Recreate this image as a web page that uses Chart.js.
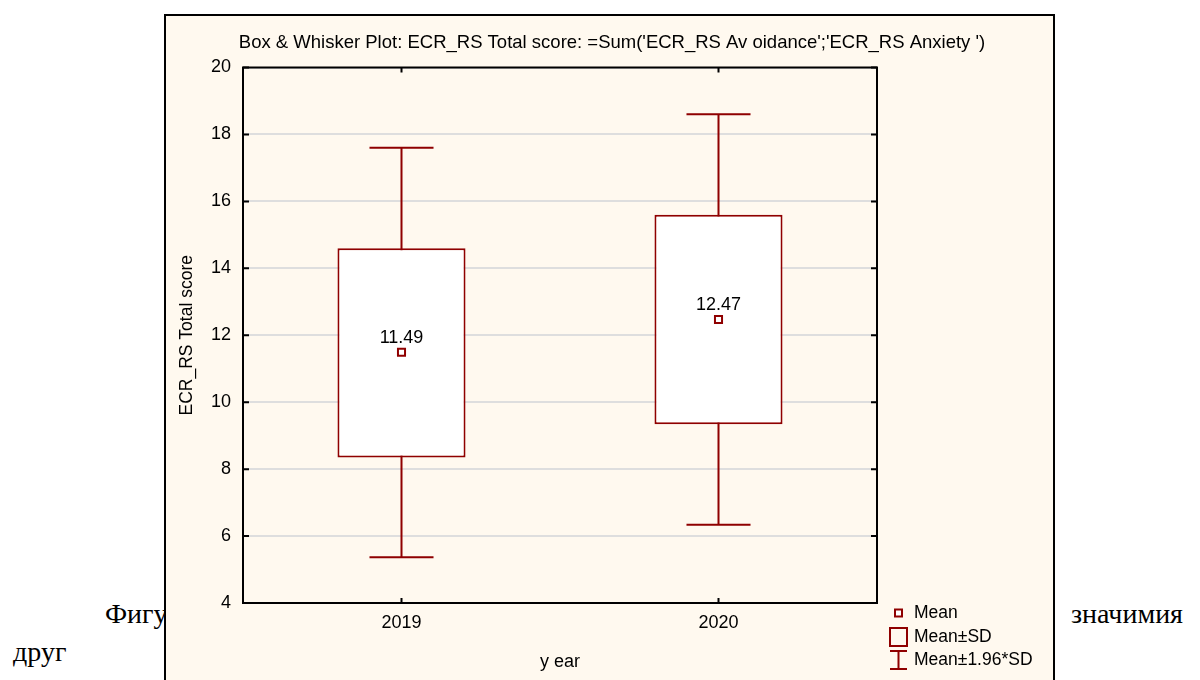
<!DOCTYPE html>
<html>
<head>
<meta charset="utf-8">
<script src="https://cdn.jsdelivr.net/npm/chart.js@4/dist/chart.umd.min.js"></script>
<style>
body{margin:0;background:#fff;width:1200px;height:680px;overflow:hidden;position:relative;font-family:"Liberation Serif",serif}
.doc{position:absolute;font-size:28px;color:#000;line-height:1;white-space:nowrap}
#panel{position:absolute;left:164px;top:14px;width:887px;height:700px;border:2px solid #000;background:#fff9ef}
#panel canvas{display:block}
</style>
</head>
<body>
<div class="doc" style="left:105px;top:600px">Фигура</div>
<div class="doc" style="left:1071px;top:600px">значимия</div>
<div class="doc" style="left:13px;top:638px">друг</div>
<div id="panel"><canvas id="c" width="887" height="664"></canvas></div>
<script>
var years = ["2019", "2020"];
var means = [11.49, 12.47];
var sdLow = [8.35, 9.34];     // Mean-SD
var sdHigh = [14.6, 15.6];    // Mean+SD
var ciLow = [5.37, 6.34];     // Mean-1.96*SD
var ciHigh = [17.6, 18.6];    // Mean+1.96*SD
var yTicks = [4, 6, 8, 10, 12, 14, 16, 18, 20];
var titleText = "Box & Whisker Plot: ECR_RS Total score: =Sum('ECR_RS Av oidance';'ECR_RS Anxiety ')";

var red = "#8f0000";
var fontFam = "'Liberation Sans', Arial, sans-serif";

var boxPlugin = {
  id: "boxWhisker",
  beforeDatasetsDraw: function(chart) {
    var ctx = chart.ctx, xs = chart.scales.x, ys = chart.scales.y;
    var bars = chart.getDatasetMeta(0).data;
    ctx.save();
    ctx.strokeStyle = red;
    ctx.lineWidth = 2;
    years.forEach(function(y, i) {
      var x = xs.getPixelForValue(i);
      var half = bars[i].width / 4;
      var top = ys.getPixelForValue(ciHigh[i]), bot = ys.getPixelForValue(ciLow[i]);
      ctx.beginPath();
      ctx.moveTo(x, top); ctx.lineTo(x, bot);
      ctx.moveTo(x - half, top); ctx.lineTo(x + half, top);
      ctx.moveTo(x - half, bot); ctx.lineTo(x + half, bot);
      ctx.stroke();
    });
    ctx.restore();
  },
  afterDatasetsDraw: function(chart) {
    var ctx = chart.ctx, xs = chart.scales.x, ys = chart.scales.y, a = chart.chartArea;
    ctx.save();
    // mean labels
    ctx.fillStyle = "#000";
    ctx.font = "18px " + fontFam;
    ctx.textAlign = "center";
    ctx.textBaseline = "middle";
    means.forEach(function(m, i) {
      ctx.fillText(m.toFixed(2), xs.getPixelForValue(i), ys.getPixelForValue(m) - 14);
    });
    // frame and inward ticks
    ctx.strokeStyle = "#000";
    ctx.lineWidth = 2;
    ctx.strokeRect(a.left, a.top, a.right - a.left, a.bottom - a.top);
    ctx.beginPath();
    yTicks.forEach(function(v) {
      var py = ys.getPixelForValue(v);
      ctx.moveTo(a.left, py); ctx.lineTo(a.left + 6, py);
      ctx.moveTo(a.right - 6, py); ctx.lineTo(a.right, py);
    });
    years.forEach(function(y, i) {
      var px = xs.getPixelForValue(i);
      ctx.moveTo(px, a.top); ctx.lineTo(px, a.top + 5);
      ctx.moveTo(px, a.bottom - 5); ctx.lineTo(px, a.bottom);
    });
    ctx.stroke();
    ctx.restore();
  },
  afterDraw: function(chart) {
    var ctx = chart.ctx;
    ctx.save();
    // title across the whole panel
    ctx.fillStyle = "#000";
    ctx.font = "18.5px " + fontFam;
    ctx.textAlign = "center";
    ctx.textBaseline = "middle";
    ctx.fillText(titleText, 446, 27);
    // legend
    ctx.strokeStyle = red;
    ctx.lineWidth = 2;
    ctx.fillStyle = "#fff";
    ctx.fillRect(729, 593.5, 7, 7);
    ctx.strokeRect(729, 593.5, 7, 7);
    ctx.strokeRect(724, 612, 17, 18);
    ctx.beginPath();
    ctx.moveTo(732.5, 635); ctx.lineTo(732.5, 653);
    ctx.moveTo(724, 635); ctx.lineTo(741, 635);
    ctx.moveTo(724, 653); ctx.lineTo(741, 653);
    ctx.stroke();
    ctx.fillStyle = "#000";
    ctx.font = "17.5px " + fontFam;
    ctx.textAlign = "left";
    ctx.fillText("Mean", 748, 597);
    ctx.fillText("Mean\u00b1SD", 748, 621);
    ctx.fillText("Mean\u00b11.96*SD", 748, 644);
    ctx.restore();
  }
};

new Chart(document.getElementById("c"), {
  data: {
    labels: years,
    datasets: [{
      type: "bar",
      label: "Mean\u00b1SD",
      data: years.map(function(y, i) { return [sdLow[i], sdHigh[i]]; }),
      backgroundColor: "#fff",
      borderColor: red,
      borderWidth: 2,
      borderSkipped: false,
      barPercentage: 0.404,
      categoryPercentage: 1,
      order: 2
    }, {
      type: "line",
      label: "Mean",
      data: means,
      showLine: false,
      pointStyle: "rect",
      pointRadius: 5,
      pointBorderWidth: 2,
      pointBackgroundColor: "#fff",
      pointBorderColor: red,
      borderColor: red,
      order: 1
    }]
  },
  options: {
    responsive: false,
    animation: false,
    devicePixelRatio: 1,
    layout: { padding: { left: 0, right: 176, top: 51.5, bottom: 0 } },
    plugins: {
      legend: { display: false },
      tooltip: { enabled: false },
      title: { display: false }
    },
    scales: {
      x: {
        type: "category",
        offset: true,
        grid: { display: false, drawTicks: false },
        border: { display: false },
        ticks: { color: "#000", font: { family: fontFam, size: 18 }, padding: 9 },
        title: { display: true, text: "y ear", color: "#000", font: { family: fontFam, size: 18 }, padding: { top: 0, bottom: 7 } },
        afterFit: function(s) { s.height = 77; }
      },
      y: {
        min: 4, max: 20,
        afterBuildTicks: function(s) { s.ticks = yTicks.map(function(v) { return { value: v }; }); },
        grid: { color: "#dedede", lineWidth: 2, drawTicks: false },
        border: { display: false },
        ticks: { color: "#000", font: { family: fontFam, size: 18 }, padding: 12 },
        title: { display: true, text: "ECR_RS Total score", color: "#000", font: { family: fontFam, size: 17.5 }, padding: { top: 11, bottom: 0 } },
        afterFit: function(s) { s.width = 77; }
      }
    }
  },
  plugins: [boxPlugin]
});
</script>
</body>
</html>
